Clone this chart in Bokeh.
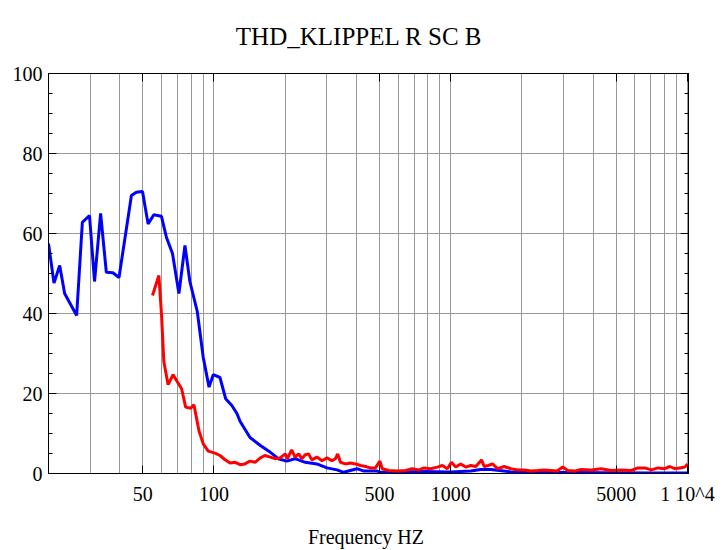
from bokeh.plotting import figure
from bokeh.models import LinearAxis, LogAxis, FixedTicker, SingleIntervalTicker
from bokeh.embed import file_html
from bokeh.resources import INLINE

# ---- data ----
blue_freq = [20, 21.1, 22.3, 23.4, 26.3, 27.8, 29.8, 31.3, 33.2, 35.1, 37.4, 39.7,
             44.8, 47.0, 49.9, 52.7, 55.7, 60.0, 63.0, 66.8, 71.1, 75.4, 79.1, 85.0,
             90.1, 95.3, 99.3, 106, 112, 119, 125, 129, 142, 157, 173, 187, 203, 220,
             243, 272, 300, 331, 353, 402, 430, 489, 505, 613, 746, 1000, 1215, 1337,
             1478, 1796, 2653, 4321, 7039, 10000]
blue_thd = [57.5, 47.6, 52, 45, 39.5, 62.8, 64.5, 48, 65, 50.3, 50.2, 49,
            69.5, 70.3, 70.5, 62.4, 64.7, 64.3, 59, 55, 45, 57, 48, 40.5,
            29, 21.6, 24.7, 24, 18.7, 17, 15, 13, 9, 7, 5.3, 3.7, 3.1, 3.7,
            2.8, 2.4, 1.4, 0.9, 0.3, 1.2, 0.6, 0.6, 0.3, 0.4, 0.5, 0.4, 0.6, 1.0,
            1.0, 0.4, 0.3, 0.2, 0.1, 0.1]

red_freq = [55.0, 58.5, 60.0, 61.4, 64.0, 67.2, 70.2, 73.0, 75.9, 79.7, 82.3, 86.4,
            90.1, 94.6, 101, 106, 111, 117, 123, 129, 135, 142, 149, 157, 164, 173,
            181, 190, 200, 204, 213, 220, 228, 235, 243, 251, 259, 272, 286, 300,
            315, 326, 333, 342, 359, 377, 396, 416, 437, 458, 481, 502, 514, 548,
            595, 645, 688, 734, 771, 823, 878, 922, 968, 1007, 1050, 1102, 1158,
            1215, 1276, 1349, 1384, 1439, 1502, 1577, 1682, 1796, 1917, 2045, 2183,
            2331, 2485, 2653, 2813, 2974, 3122, 3330, 3555, 3920, 4321, 4764, 5252,
            5790, 6182, 6594, 7039, 7511, 8011, 8414, 8835, 9277, 9741, 10000]
red_thd = [44.5, 49.5, 40, 28, 22.2, 24.7, 22.8, 21.2, 16.6, 16.3, 17.2, 10.7,
           7.4, 5.6, 5.1, 4.5, 3.5, 2.6, 2.8, 2.2, 2.4, 3.1, 2.8, 3.9, 4.5, 4.1,
           3.7, 3.9, 4.9, 3.7, 5.9, 4.1, 4.9, 3.7, 4.7, 4.9, 3.4, 4.1, 3.2, 3.9,
           3.2, 3.7, 4.9, 2.8, 2.4, 2.6, 2.4, 2.0, 1.75, 1.4, 1.4, 3.1, 1.2, 0.75,
           0.6, 0.75, 1.2, 0.9, 1.4, 1.2, 1.6, 2.0, 1.2, 2.8, 1.6, 2.4, 1.6,
           2.0, 1.75, 3.4, 1.75, 2.0, 2.4, 1.2, 1.75, 1.2, 0.9, 0.9, 0.6,
           0.75, 0.9, 0.75, 0.6, 1.6, 0.75, 0.6, 1.0, 0.9, 1.2, 0.75, 0.9,
           0.75, 1.4, 1.4, 0.9, 1.4, 1.2, 1.75, 1.2, 1.4, 1.6, 2.4]

x_tick_vals = [50, 100, 500, 1000, 5000, 10000]
x_tick_labels = ["50", "100", "500", "1000", "5000", "1 10^4"]
x_grid_vals = [20, 30, 40, 50, 60, 70, 80, 90, 100, 200, 300, 400, 500, 600, 700,
               800, 900, 1000, 2000, 3000, 4000, 5000, 6000, 7000, 8000, 9000, 10000]

TITLE = "THD_KLIPPEL R    SC B"
XLABEL = "Frequency  HZ"
FONT = "serif"

p = figure(width=722, height=550, x_axis_type="log", x_range=(20, 10100), y_range=(0, 100),
           output_backend="svg", toolbar_location=None,
           min_border_left=48, min_border_right=34, min_border_top=73, min_border_bottom=77)

p.title.text = TITLE
p.title.align = "center"
p.title.vertical_align = "top"
p.title.offset = -5
p.title.standoff = 44
p.title.text_font = FONT
p.title.text_font_size = "25px"
p.title.text_font_style = "normal"
p.title.text_color = "black"

p.outline_line_color = "black"
p.outline_line_alpha = 1

# bottom axis
xa = p.xaxis[0]
xa.ticker = FixedTicker(ticks=x_tick_vals, minor_ticks=[])
xa.major_label_overrides = {v: s for v, s in zip(x_tick_vals, x_tick_labels)}
xa.major_tick_in = 8
xa.major_tick_out = 0
xa.minor_tick_line_color = None
xa.major_label_standoff = 9
xa.major_label_text_font = FONT
xa.major_label_text_font_size = "20px"
xa.major_label_text_color = "black"
xa.axis_label = XLABEL
xa.axis_label_text_font = FONT
xa.axis_label_text_font_size = "20px"
xa.axis_label_text_font_style = "normal"
xa.axis_label_text_color = "black"
xa.axis_label_standoff = 18
xa.axis_line_color = "black"
xa.major_tick_line_color = "black"

# left axis
ya = p.yaxis[0]
ya.ticker = SingleIntervalTicker(interval=20, num_minor_ticks=4)
ya.major_tick_in = 8
ya.major_tick_out = 0
ya.minor_tick_in = 4
ya.minor_tick_out = 0
ya.major_label_standoff = 6
ya.major_label_text_font = FONT
ya.major_label_text_font_size = "20px"
ya.major_label_text_color = "black"
ya.axis_line_color = "black"
ya.major_tick_line_color = "black"
ya.minor_tick_line_color = "black"

ra = LinearAxis(ticker=SingleIntervalTicker(interval=20, num_minor_ticks=4),
                major_tick_in=8, major_tick_out=0, minor_tick_in=4, minor_tick_out=0,
                major_label_standoff=0, major_label_text_font_size="1px",
                major_label_text_color=None, axis_line_color="black",
                major_tick_line_color="black", minor_tick_line_color="black")
p.add_layout(ra, "right")
ta = LogAxis(ticker=FixedTicker(ticks=x_tick_vals, minor_ticks=[]),
             major_tick_in=8, major_tick_out=0, minor_tick_line_color=None,
             major_label_standoff=0, major_label_text_font_size="1px",
             major_label_text_color=None, axis_line_color="black",
             major_tick_line_color="black")
p.add_layout(ta, "above")

p.xgrid.ticker = FixedTicker(ticks=x_grid_vals)
p.xgrid.grid_line_color = "#999999"
p.xgrid.grid_line_width = 1
p.ygrid.ticker = SingleIntervalTicker(interval=20)
p.ygrid.grid_line_color = "#999999"
p.ygrid.grid_line_width = 1

p.line(blue_freq, blue_thd, line_color="#0000ff", line_width=3)
p.line(red_freq, red_thd, line_color="#ff0000", line_width=3)

open("out.html", "w").write(file_html(p, INLINE))
